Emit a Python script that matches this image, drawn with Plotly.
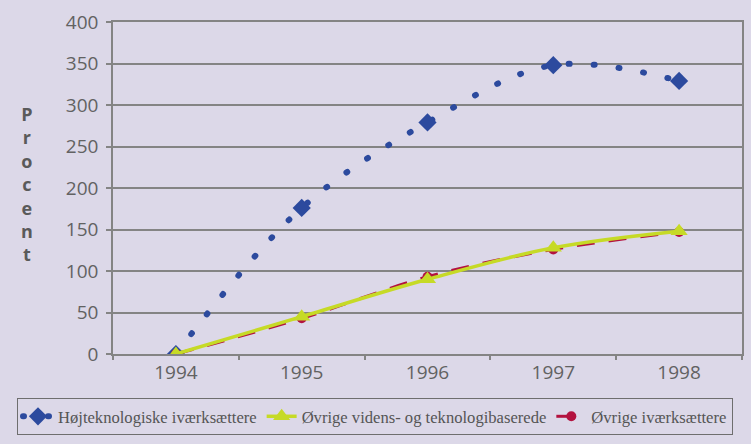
import plotly.graph_objects as go

years = ["1994", "1995", "1996", "1997", "1998"]
hoejtek = [0, 176, 279, 348, 329]
videns = [0, 45, 90, 128, 148]
oevrige = [0, 43, 93, 126, 147]
y_ticks = [0, 50, 100, 150, 200, 250, 300, 350, 400]

BG = "#dcd8e8"
GRID = "#848484"
TXT = "#626262"

fig = go.Figure()
fig.add_trace(go.Scatter(
    x=years, y=hoejtek, name="Højteknologiske iværksættere",
    mode="lines+markers", legendrank=1,
    line=dict(color="#2c4a9e", width=6, dash="1px,24px", shape="spline"),
    marker=dict(symbol="diamond", size=14, color="#2c4a9e"),
))
fig.add_trace(go.Scatter(
    x=years, y=oevrige, name="Øvrige iværksættere",
    mode="lines+markers", legendrank=3,
    line=dict(color="#b3123f", width=3, dash="18px,14px", shape="spline"),
    marker=dict(symbol="circle", size=10, color="#b3123f"),
))
fig.add_trace(go.Scatter(
    x=years, y=videns, name="Øvrige videns- og teknologibaserede",
    mode="lines+markers", legendrank=2,
    line=dict(color="#c6da26", width=3.5, shape="spline"),
    marker=dict(symbol="triangle-up", size=15, color="#c6da26"),
))

fig.update_layout(
    width=751, height=444,
    paper_bgcolor=BG, plot_bgcolor=BG,
    margin=dict(l=113, r=9, t=22, b=90, autoexpand=False),
    font=dict(family="Open Sans", color=TXT),
    showlegend=True,
    legend=dict(
        orientation="h",
        x=(17 - 113) / 629, xanchor="left", y=(354 - 398) / 332, yanchor="top",
        bgcolor=BG, bordercolor="#6e6e6e", borderwidth=1,
        font=dict(family="Liberation Sans Narrow", size=16.6, color="#555555"),
        itemwidth=30, tracegroupgap=0,
    ),
    xaxis=dict(
        type="category", range=[-0.5, 4.5], tickson="boundaries",
        ticks="outside", ticklen=4, tickcolor=GRID, tickwidth=1.5,
        showline=True, linecolor=GRID, linewidth=1.5, mirror=True,
        showgrid=False, tickfont=dict(size=19, color=TXT),
        fixedrange=True,
    ),
    yaxis=dict(
        range=[0, 400], tickvals=y_ticks, ticks="outside", ticklen=5,
        tickcolor=GRID, tickwidth=1.5, ticklabelstandoff=4,
        showline=True, linecolor=GRID, linewidth=1.5, mirror=True,
        showgrid=True, gridcolor=GRID, gridwidth=1.5, zeroline=False,
        tickfont=dict(size=19, color=TXT),
    ),
    annotations=[dict(
        text="<b>P<br>r<br>o<br>c<br>e<br>n<br>t</b>", xref="paper", yref="paper",
        x=(27 - 113) / 629, y=(354 - 184) / 332, xanchor="center", yanchor="middle",
        showarrow=False, font=dict(family="Open Sans", size=18, color="#5a5a5a"),
    )],
)

post = """
document.body.style.margin = '0';
document.body.style.background = '#dcd8e8';
function fixCaps(){
  document.querySelectorAll('path.js-line, .legendlines path').forEach(function(p){
    var s = p.style.stroke || p.getAttribute('stroke') || '';
    if (s.indexOf('44, 74, 158') >= 0 || s.indexOf('2c4a9e') >= 0) {
      p.style.strokeLinecap = 'round';
    }
  });
}
fixCaps();
"""
fig.write_html("out.html", post_script=post, config={"displayModeBar": False})
